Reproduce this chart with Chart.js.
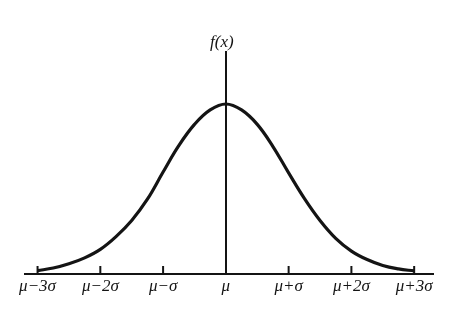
<!DOCTYPE html>
<html>
<head>
<meta charset="utf-8">
<script src="https://cdn.jsdelivr.net/npm/chart.js@4/dist/chart.umd.min.js"></script>
<style>
html,body{margin:0;padding:0;background:#fff;}
#wrap{width:474px;height:319px;}
</style>
</head>
<body>
<div id="wrap"><canvas id="c" width="474" height="319"></canvas></div>
<script>
const xValues = [-3, -2.75, -2.5, -2.25, -2, -1.75, -1.5, -1.25, -1, -0.75, -0.5, -0.25, 0,
                 0.25, 0.5, 0.75, 1, 1.25, 1.5, 1.75, 2, 2.25, 2.5, 2.75, 3];
const fValues = [0.02, 0.035, 0.06, 0.095, 0.145, 0.22, 0.315, 0.44, 0.60, 0.755, 0.88, 0.965, 1.0,
                 0.965, 0.88, 0.75, 0.595, 0.445, 0.315, 0.21, 0.135, 0.085, 0.05, 0.03, 0.018];
const tickValues = [-3, -2, -1, 0, 1, 2, 3];
const tickLabels = ['μ−3σ', 'μ−2σ', 'μ−σ', 'μ', 'μ+σ', 'μ+2σ', 'μ+3σ'];
const yLabel = 'f(x)';

const ink = '#141414';
const serifItalic = {family: '"Liberation Serif", "DejaVu Serif", serif', style: 'italic', size: 17};

const upTicks = {
  id: 'upTicks',
  afterDraw(chart) {
    const {ctx, scales: {x}, chartArea} = chart;
    ctx.save();
    ctx.strokeStyle = ink;
    ctx.lineWidth = 2;
    tickValues.forEach(v => {
      if (v === 0) return;
      const px = x.getPixelForValue(v);
      ctx.beginPath();
      ctx.moveTo(px, chartArea.bottom);
      ctx.lineTo(px, chartArea.bottom - 8);
      ctx.stroke();
    });
    ctx.fillStyle = ink;
    ctx.font = 'italic 17px "Liberation Serif", "DejaVu Serif", serif';
    ctx.textAlign = 'center';
    ctx.textBaseline = 'bottom';
    ctx.fillText(yLabel, x.getPixelForValue(0) - 4, chartArea.top - 1);
    ctx.restore();
  }
};

new Chart(document.getElementById('c'), {
  type: 'line',
  data: {
    datasets: [{
      data: xValues.map((v, i) => ({x: v, y: fValues[i]})),
      borderColor: ink,
      borderWidth: 3.2,
      pointRadius: 0,
      fill: false,
      tension: 0.4
    }]
  },
  options: {
    responsive: false,
    animation: false,
    layout: {padding: {left: 25, right: 41, top: 52, bottom: 0}},
    plugins: {legend: {display: false}, tooltip: {enabled: false}},
    scales: {
      x: {
        type: 'linear',
        position: 'bottom',
        min: -3.2,
        max: 3.3,
        afterBuildTicks: s => { s.ticks = tickValues.map(v => ({value: v})); },
        afterFit: s => { s.height = 45; },
        grid: {display: false, drawTicks: false},
        border: {display: true, color: ink, width: 2},
        ticks: {
          color: ink,
          font: serifItalic,
          padding: 2,
          maxRotation: 0,
          autoSkip: false,
          callback: (v) => { const i = tickValues.indexOf(v); return i >= 0 ? tickLabels[i] : ''; }
        }
      },
      y: {
        type: 'linear',
        position: {x: 0},
        min: 0,
        max: 1.306,
        grid: {display: false, drawTicks: false},
        border: {display: true, color: ink, width: 2},
        ticks: {display: false}
      }
    }
  },
  plugins: [upTicks]
});
</script>
</body>
</html>
